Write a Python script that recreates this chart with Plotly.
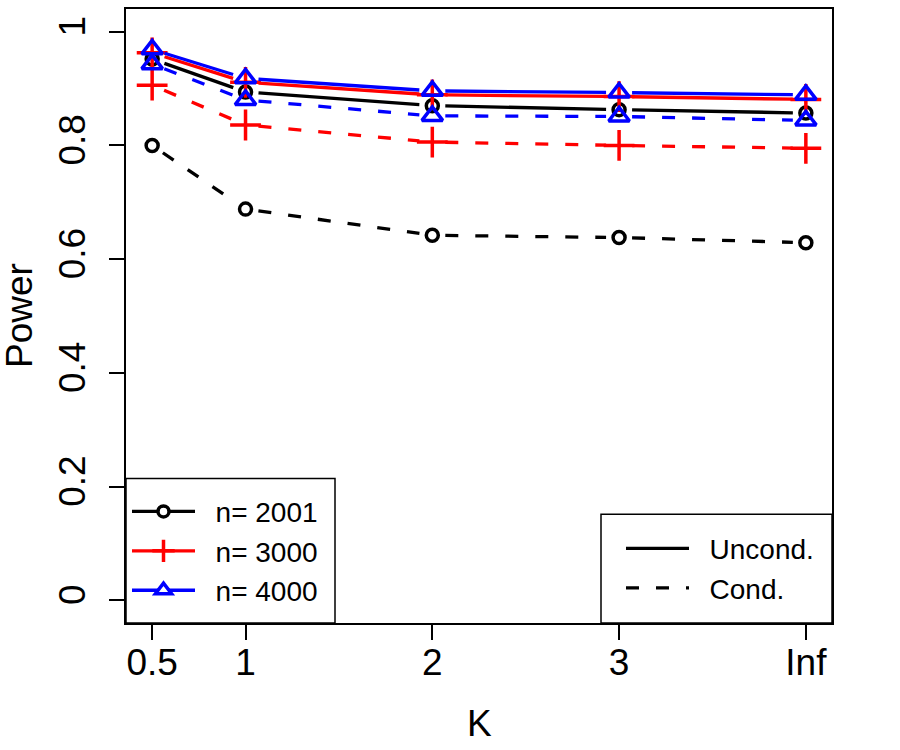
import plotly.graph_objects as go
import numpy as np

# ---------------- data ----------------
K_labels = ["0.5", "1", "2", "3", "Inf"]
K_pos = [0.5, 1, 2, 3, 4]
y_ticks = [0, 0.2, 0.4, 0.6, 0.8, 1]
y_ticklabels = ["0", "0.2", "0.4", "0.6", "0.8", "1"]

uncond_2001 = [0.952, 0.894, 0.870, 0.863, 0.857]
cond_2001 = [0.800, 0.688, 0.642, 0.638, 0.629]
uncond_3000 = [0.963, 0.911, 0.889, 0.886, 0.881]
cond_3000 = [0.906, 0.836, 0.806, 0.800, 0.795]
uncond_4000 = [0.969, 0.918, 0.896, 0.893, 0.889]
cond_4000 = [0.943, 0.880, 0.852, 0.851, 0.844]

legend_n = ["n= 2001", "n= 3000", "n= 4000"]
legend_type = ["Uncond.", "Cond."]

# ---------------- layout constants ----------------
W, H = 900, 750
ML, MR, MT, MB = 126, 68, 7, 127
XR = [0.36, 4.14]
YR = [-0.04, 1.04]
PW = W - ML - MR
PH = H - MT - MB
sx = PW / (XR[1] - XR[0])
sy = PH / (YR[1] - YR[0])
GAP = 13  # px gap around points (R type="b")
FONT = "Liberation Sans, Arial, Helvetica, sans-serif"
DASH = "13px,17px"
LW = 3.3
MLW = 3.5


def px2paper_x(px):
    return (px - ML) / PW


def px2paper_y(py):
    return (MT + PH - py) / PH


def gapped(xs, ys):
    ox, oy = [], []
    for i in range(len(xs) - 1):
        ddx, ddy = xs[i + 1] - xs[i], ys[i + 1] - ys[i]
        L = np.hypot(ddx * sx, ddy * sy)
        t = GAP / L
        ox += [xs[i] + t * ddx, xs[i + 1] - t * ddx, None]
        oy += [ys[i] + t * ddy, ys[i + 1] - t * ddy, None]
    return ox, oy


series = [
    (uncond_2001, "black", "circle-open", 12, "solid"),
    (cond_2001, "black", "circle-open", 12, DASH),
    (uncond_3000, "red", "cross-thin-open", 22, "solid"),
    (cond_3000, "red", "cross-thin-open", 22, DASH),
    (uncond_4000, "blue", "triangle-up-open", 18, "solid"),
    (cond_4000, "blue", "triangle-up-open", 18, DASH),
]

fig = go.Figure()
for ys, col, sym, size, dash in series:
    gx, gy = gapped(K_pos, ys)
    fig.add_trace(go.Scatter(x=gx, y=gy, mode="lines", showlegend=False,
                             line=dict(color=col, width=LW, dash=dash),
                             hoverinfo="skip"))
    fig.add_trace(go.Scatter(x=K_pos, y=ys, mode="markers", showlegend=False,
                             marker=dict(symbol=sym, size=size, color=col,
                                         line=dict(color=col, width=MLW))))

NB = "\u00a0\u00a0"
# legend 1 (sample sizes)
leg1 = [(legend_n[0], "black", "circle", 11),
        (legend_n[1], "red", "cross-thin", 20),
        (legend_n[2], "blue", "triangle-up", 14)]
for name, col, sym, size in leg1:
    mcol = "white" if sym in ("circle", "triangle-up") else col
    fig.add_trace(go.Scatter(x=[None], y=[None], mode="lines+markers", name=NB + name,
                             legend="legend",
                             line=dict(color=col, width=LW),
                             marker=dict(symbol=sym, size=size, color=mcol,
                                         line=dict(color=col, width=MLW))))
# legend 2 (type)
for name, dash in zip(legend_type, ["solid", DASH]):
    fig.add_trace(go.Scatter(x=[None], y=[None], mode="lines", name=NB + name,
                             legend="legend2",
                             line=dict(color="black", width=LW, dash=dash)))

axis_common = dict(showline=True, linecolor="black", linewidth=1.5, mirror=True,
                   ticks="outside", ticklen=15, tickwidth=1.5, tickcolor="black",
                   showgrid=False, zeroline=False,
                   tickfont=dict(family=FONT, size=37, color="black"))

leg_common = dict(bgcolor="rgba(0,0,0,0)", borderwidth=0,
                  font=dict(family=FONT, size=28, color="black"),
                  itemwidth=63, tracegroupgap=0, yanchor="middle", xanchor="left")

fig.update_layout(
    width=W, height=H,
    margin=dict(l=ML, r=MR, t=MT, b=MB),
    plot_bgcolor="white", paper_bgcolor="white",
    font=dict(family=FONT, color="black"),
    xaxis=dict(range=XR, tickvals=K_pos, ticktext=K_labels, ticklabelstandoff=-9,
               **axis_common),
    yaxis=dict(range=YR, tickvals=y_ticks, ticktext=y_ticklabels, tickangle=-90,
               ticklabelstandoff=9, **axis_common),
    legend=dict(x=px2paper_x(127), y=px2paper_y(551), **leg_common),
    legend2=dict(x=px2paper_x(621), y=px2paper_y(568), **leg_common),
    shapes=[
        dict(type="rect", xref="paper", yref="paper", layer="above",
             x0=0, x1=px2paper_x(335), y0=0, y1=px2paper_y(478),
             line=dict(color="black", width=1.5), fillcolor="white"),
        dict(type="rect", xref="paper", yref="paper", layer="above",
             x0=px2paper_x(601), x1=1, y0=0, y1=px2paper_y(514),
             line=dict(color="black", width=1.5), fillcolor="white"),
    ],
    annotations=[
        dict(text="K", xref="paper", yref="paper", x=0.5, y=0, yshift=-100,
             xanchor="center", yanchor="middle", showarrow=False,
             font=dict(family=FONT, size=37, color="black")),
        dict(text="Power", xref="paper", yref="paper", x=0, y=0.5, xshift=-107,
             xanchor="center", yanchor="middle", textangle=-90, showarrow=False,
             font=dict(family=FONT, size=37, color="black")),
    ],
)

fig.write_html("out.html")
